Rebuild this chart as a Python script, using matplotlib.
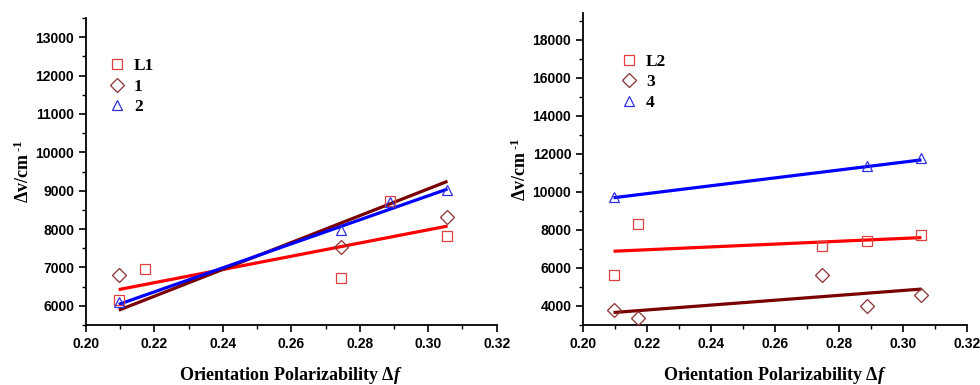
import matplotlib
matplotlib.use("Agg")
import matplotlib.pyplot as plt
from matplotlib.ticker import MultipleLocator, FormatStrFormatter

plt.rcParams["font.family"] = "Liberation Sans"
plt.rcParams["font.weight"] = "bold"
plt.rcParams["mathtext.fontset"] = "custom"
plt.rcParams["mathtext.rm"] = "Liberation Serif:bold"
plt.rcParams["mathtext.bf"] = "Liberation Serif:bold"
plt.rcParams["mathtext.it"] = "Liberation Serif:bold:italic"

# Left panel: L1, 1, 2
L1_X = [0.2096, 0.2172, 0.2745, 0.2888, 0.3054]
L1_Y = [6150, 6960, 6720, 8720, 7810]
C1_X = [0.2096, 0.2745, 0.3054]
C1_Y = [6790, 7540, 8310]
C2_X = [0.2096, 0.2745, 0.2888, 0.3056]
C2_Y = [6110, 7980, 8710, 9030]
FIT_X = [0.210, 0.3052]
FIT_L1 = [6430, 8070]
FIT_C1 = [5900, 9230]
FIT_C2 = [6050, 9030]

# Right panel: L2, 3, 4
L2_X = [0.2096, 0.2172, 0.2745, 0.2888, 0.3054]
L2_Y = [5650, 8330, 7130, 7410, 7750]
C3_X = [0.2096, 0.2172, 0.2745, 0.2888, 0.3054]
C3_Y = [3800, 3370, 5640, 4000, 4600]
C4_X = [0.2096, 0.2888, 0.3054]
C4_Y = [9730, 11370, 11760]
FIT_L2 = [6880, 7590]
FIT_C3 = [3660, 4880]
FIT_C4 = [9700, 11670]

RED = "#ff0000"
SQ = "#e04040"
DARK = "#7a0000"
DIA = "#8b3030"
BLUE = "#0000ff"
TRI = "#3030e0"

SERIF = "Liberation Serif"


def style_axis(ax, ylim, ymajor, yminor):
    ax.set_xlim(0.20, 0.32)
    ax.set_ylim(*ylim)
    ax.spines["top"].set_visible(False)
    ax.spines["right"].set_visible(False)
    for s in ("left", "bottom"):
        ax.spines[s].set_linewidth(1.3)
    ax.xaxis.set_major_locator(MultipleLocator(0.02))
    ax.xaxis.set_minor_locator(MultipleLocator(0.01))
    ax.yaxis.set_major_locator(MultipleLocator(ymajor))
    ax.yaxis.set_minor_locator(MultipleLocator(yminor))
    ax.xaxis.set_major_formatter(FormatStrFormatter("%.2f"))
    ax.tick_params(which="major", direction="out", length=5, width=1.2,
                   labelsize=10)
    ax.tick_params(which="minor", direction="out", length=3, width=1.0)
    ax.set_xlabel(r"Orientation Polarizability $\Delta\mathit{f}$",
                  fontfamily=SERIF, fontweight="bold", fontsize=13, labelpad=10)
    ax.set_ylabel(r"$\Delta$v/cm$^{\text{ -1}}$",
                  fontfamily=SERIF, fontweight="bold", fontsize=13, labelpad=2)


def draw(ax, sets, fits, labels, anchor_x):
    handles = []
    for (x, y, marker, color), lab in zip(sets, labels):
        h, = ax.plot(x, y, linestyle="none", marker=marker, markersize=7,
                     markerfacecolor="none", markeredgecolor=color,
                     markeredgewidth=0.9, label=lab, zorder=3)
        handles.append(h)
    for y, color in fits:
        ax.plot(FIT_X, y, color=color, linewidth=2.3, zorder=2)
    ax.legend(handles=handles, loc="upper left",
              bbox_to_anchor=(anchor_x, 0.92), frameon=False,
              prop={"family": SERIF, "weight": "bold", "size": 12.5},
              handletextpad=0.5, labelspacing=0.25, handlelength=1.0)


fig = plt.figure(figsize=(9.8, 3.85), dpi=100)
ax1 = fig.add_axes([0.0878, 0.156, 0.419, 0.797])
ax2 = fig.add_axes([0.595, 0.156, 0.392, 0.810])

draw(ax1,
     [(L1_X, L1_Y, "s", SQ), (C1_X, C1_Y, "D", DIA), (C2_X, C2_Y, "^", TRI)],
     [(FIT_L1, RED), (FIT_C1, DARK), (FIT_C2, BLUE)],
     ["L1", "1", "2"], 0.015)
style_axis(ax1, (5500, 13500), 1000, 500)

draw(ax2,
     [(L2_X, L2_Y, "s", SQ), (C3_X, C3_Y, "D", DIA), (C4_X, C4_Y, "^", TRI)],
     [(FIT_L2, RED), (FIT_C3, DARK), (FIT_C4, BLUE)],
     ["L2", "3", "4"], 0.055)
style_axis(ax2, (3000, 19400), 2000, 1000)

fig.savefig("out.png", dpi=100)
